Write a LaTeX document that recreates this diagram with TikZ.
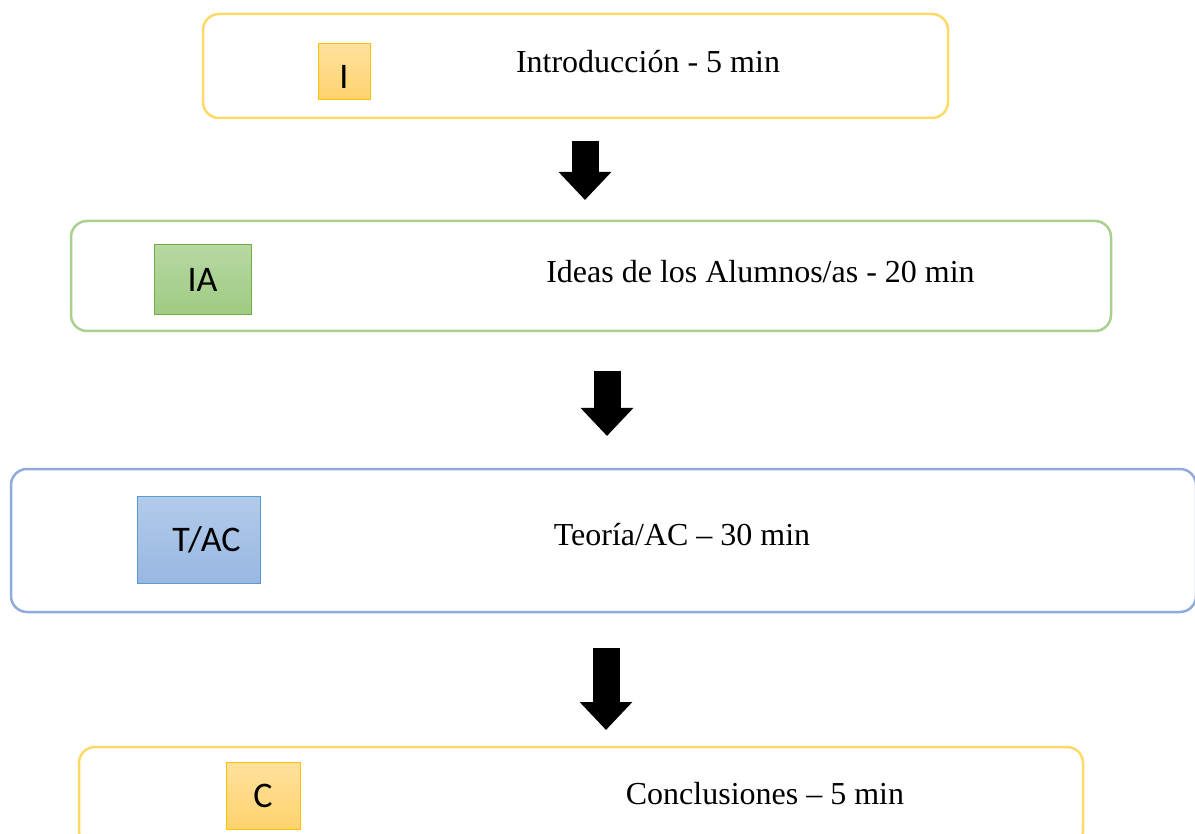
\documentclass[tikz,border=0pt]{standalone}
\usepackage{fontspec}
\setmainfont{Liberation Serif}
\setsansfont{Carlito}
\usetikzlibrary{arrows.meta}
\definecolor{goldline}{HTML}{FFD966}
\definecolor{greenline}{HTML}{A9D18E}
\definecolor{blueline}{HTML}{8FAADC}
\definecolor{goldedge}{HTML}{FFC000}
\definecolor{greenedge}{HTML}{70AD47}
\definecolor{blueedge}{HTML}{5B9BD5}
\definecolor{goldtop}{HTML}{FFE09E}
\definecolor{goldbot}{HTML}{FFD36D}
\definecolor{greentop}{HTML}{B7D8A3}
\definecolor{greenbot}{HTML}{9FCB82}
\definecolor{bluetop}{HTML}{B2CBEA}
\definecolor{bluebot}{HTML}{98B7E2}

\begin{document}
\begin{tikzpicture}[x=1pt, y=-1pt,
  stage/.style={draw=#1, line width=2.5pt, rounded corners=16pt, fill=white, inner sep=0pt},
  tag/.style={draw=#1edge, top color=#1top, bottom color=#1bot, line width=1pt, inner sep=0pt,
    font=\sffamily\fontsize{36}{42}\selectfont},
  caption/.style={inner sep=0pt, font=\fontsize{32}{38}\selectfont},
  blockarrow/.style={line width=27pt, -{Triangle[length=28pt,width=51pt]}}]
  \useasboundingbox (0,0) rectangle (1195,834);

  % stages
  \node[stage=goldline, minimum width=745pt, minimum height=104pt] (intro) at (575.5,66) {};
  \node[stage=greenline, minimum width=1040pt, minimum height=110pt] (ideas) at (591,276) {};
  \node[stage=blueline, minimum width=1185pt, minimum height=143pt] (theory) at (603.5,540.5) {};
  \node[stage=goldline, minimum width=1004pt, minimum height=100pt] (concl) at (581,797) {};

  % tags
  \node[tag=gold, minimum width=52pt, minimum height=56pt, text height=34pt, text depth=0pt] (tagI) at (344,72) {I};
  \node[tag=green, minimum width=97pt, minimum height=70pt] (tagIA) at (202.5,280) {IA};
  \node[tag=blue, minimum width=123pt, minimum height=87pt] (tagTAC) at (198.5,539.5) {\hspace*{16pt}T/AC};
  \node[tag=gold, minimum width=74pt, minimum height=67pt] (tagC) at (263,795.5) {C};

  % captions
  \node[caption] (txtI) at (648,62) {Introducción - 5 min};
  \node[caption] (txtIA) at (760.5,272) {Ideas de los Alumnos/as - 20 min};
  \node[caption] (txtTAC) at (682,535) {Teoría/AC -- 30 min};
  \node[caption] (txtC) at (765,794) {Conclusiones -- 5 min};

  % block arrows
  \coordinate (a1s) at (585,141);  \coordinate (a1e) at (585,200);
  \coordinate (a2s) at (607,371);  \coordinate (a2e) at (607,436);
  \coordinate (a3s) at (606,648);  \coordinate (a3e) at (606,730);
  \draw[blockarrow] (a1s) -- (a1e);
  \draw[blockarrow] (a2s) -- (a2e);
  \draw[blockarrow] (a3s) -- (a3e);
\end{tikzpicture}
\end{document}
